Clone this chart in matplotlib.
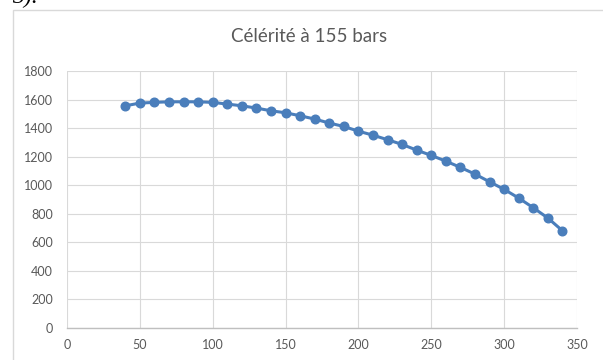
import matplotlib.pyplot as plt
from matplotlib.patches import Rectangle

# Speed of sound vs temperature at 155 bar
temperature = [40, 50, 60, 70, 80, 90, 100, 110, 120, 130, 140, 150, 160, 170,
               180, 190, 200, 210, 220, 230, 240, 250, 260, 270, 280, 290,
               300, 310, 320, 330, 340]
celerite = [1556, 1575, 1580, 1584, 1584, 1584, 1580, 1568, 1556, 1540, 1521,
            1507, 1486, 1463, 1435, 1411, 1378, 1350, 1318, 1285, 1245, 1208,
            1168, 1124, 1077, 1023, 970, 909, 841, 769, 680]
xticks = [0, 50, 100, 150, 200, 250, 300, 350]
yticks = [0, 200, 400, 600, 800, 1000, 1200, 1400, 1600, 1800]

line_color = "#4a7ebb"
text_color = "#595959"
grid_color = "#d9d9d9"

plt.rcParams['font.family'] = ['Lato', 'DejaVu Sans']

W, H = 603, 360
fig = plt.figure(figsize=(W / 100, H / 100), dpi=100)

# chart frame, running off the right and bottom edges
fig.patches.append(Rectangle((12.5 / W, -0.1), 1.2, 1 - 9.5 / H + 0.1,
                             transform=fig.transFigure, fill=False,
                             edgecolor=grid_color, linewidth=1.0))

# the bit of page text sticking in at the top
fig.text(12 / W, 1 - 3 / H, "3).", family="Liberation Serif", style="italic",
         fontsize=17, va="baseline", ha="left", color="black")

ax = fig.add_axes([67 / W, 32.3 / H, 510 / W, 256.7 / H])
ax.plot(temperature, celerite, color=line_color, linewidth=2.2,
        marker="o", markersize=6.2, markerfacecolor=line_color,
        markeredgecolor=line_color, zorder=3)

ax.set_xlim(0, 350)
ax.set_ylim(0, 1800)
ax.set_xticks(xticks)
ax.set_yticks(yticks)
ax.grid(True, color=grid_color, linewidth=0.8)
ax.set_axisbelow(True)

for side in ["top", "right", "left"]:
    ax.spines[side].set_visible(False)
ax.spines["bottom"].set_color("#bfbfbf")
ax.spines["bottom"].set_linewidth(1.0)

ax.tick_params(axis="both", length=0, labelsize=9, labelcolor=text_color)
ax.tick_params(axis="y", pad=10)
ax.tick_params(axis="x", pad=8)

fig.text(309.5 / W, 1 - 37 / H, "Célérité à 155 bars", ha="center",
         va="center", fontsize=13.5, color=text_color)

fig.savefig("out.png", dpi=100)
